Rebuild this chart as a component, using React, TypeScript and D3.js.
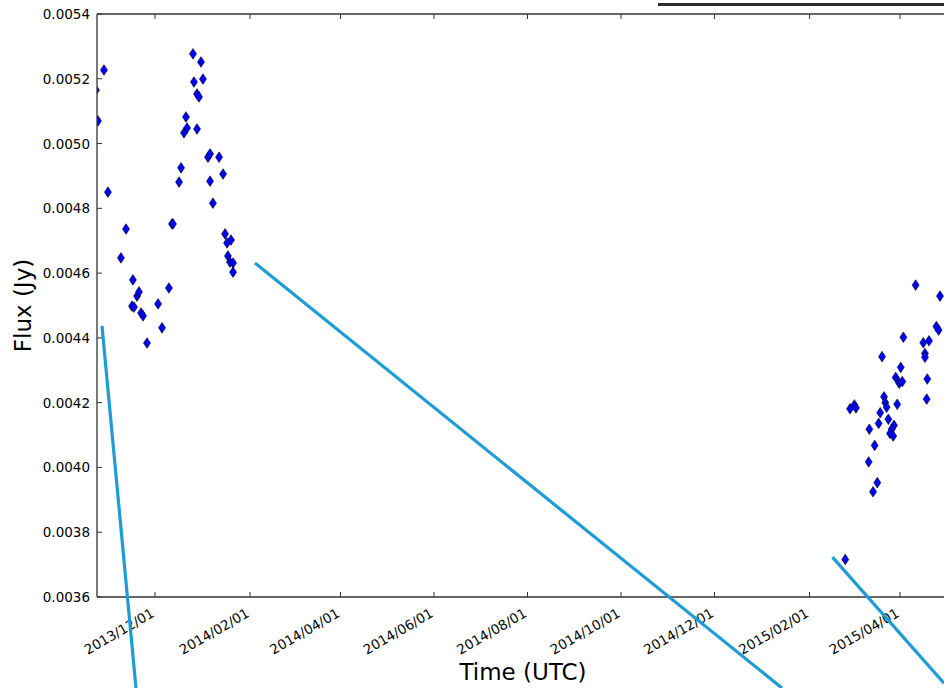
import React from "react";
import * as d3 from "d3";

// Observed flux points: [UTC time, flux in Jy]
const fluxTimes2013: string[] = [
  "2013-10-28T17", "2013-10-23T12", "2013-10-24T19", "2013-10-31T07",
  "2013-11-12T02", "2013-11-08T19", "2013-11-16T14", "2013-11-19T07",
  "2013-11-20T14", "2013-11-16T00", "2013-11-17T07", "2013-11-21T22",
  "2013-11-23T05", "2013-11-25T19", "2013-12-03T00", "2013-12-05T14",
  "2013-12-10T02", "2013-12-12T02", "2013-12-12T17", "2013-12-16T17",
  "2013-12-18T00", "2013-12-19T22", "2013-12-21T22", "2013-12-21T05",
  "2013-12-28T10", "2013-12-28T10", "2013-12-29T17", "2013-12-26T10",
  "2014-01-01T07", "2013-12-25T19", "2013-12-31T00", "2014-01-04T14",
  "2014-01-05T22", "2014-01-11T19", "2014-01-05T22", "2014-01-14T10",
  "2014-01-07T19", "2014-01-15T17", "2014-01-17T00", "2014-01-19T14",
  "2014-01-17T14", "2014-01-18T22", "2014-01-20T22", "2014-01-20T22",
];
const fluxValues2013: number[] = [
  0.005227, 0.005165, 0.00507, 0.00485,
  0.004736, 0.004647, 0.004579, 0.004529,
  0.004542, 0.004498, 0.004495, 0.004477,
  0.004468, 0.004384, 0.004505, 0.004431,
  0.004554, 0.004752, 0.004752, 0.004881,
  0.004925, 0.005033, 0.005048, 0.005082,
  0.005045, 0.005153, 0.005144, 0.00519,
  0.005199, 0.005277, 0.005252, 0.004958,
  0.004968, 0.004958, 0.004884, 0.004906,
  0.004816, 0.004721, 0.004693, 0.004702,
  0.004653, 0.004634, 0.004631, 0.004603,
];
const fluxTimes2015: string[] = [
  "2015-04-11T05", "2015-04-27T02", "2015-04-24T17", "2015-04-26T05",
  "2015-04-03T05", "2015-04-16T05", "2015-04-19T22", "2015-04-17T07",
  "2015-04-17T07", "2015-03-20T07", "2015-04-18T19", "2015-04-18T10",
  "2015-04-01T12", "2015-03-29T05", "2015-03-31T12", "2015-04-02T12",
  "2015-03-21T14", "2015-03-22T10", "2015-03-23T07", "2015-03-30T05",
  "2015-03-19T02", "2015-03-24T10", "2015-03-18T02", "2015-03-28T02",
  "2015-03-26T14", "2015-03-25T12", "2015-03-27T14", "2015-02-27T10",
  "2015-03-02T05", "2015-03-03T07", "2015-03-12T00", "2015-03-15T12",
  "2015-03-11T14", "2015-03-17T05", "2015-03-14T10", "2015-02-24T07",
];
const fluxValues2015: number[] = [
  0.004563, 0.004529, 0.004435, 0.004424,
  0.004402, 0.004385, 0.004391, 0.004352,
  0.00434, 0.004342, 0.004273, 0.004211,
  0.004309, 0.004278, 0.00426, 0.004265,
  0.004218, 0.0042, 0.004186, 0.004195,
  0.004169, 0.004149, 0.004136, 0.00413,
  0.004118, 0.004105, 0.004097, 0.004181,
  0.004193, 0.004184, 0.004118, 0.004068,
  0.004017, 0.003953, 0.003925, 0.003716,
];

// Blue trend segments: [start time, start flux, end time, end flux]
const segStartTimes: string[] = ["2013-10-27T10", "2014-02-04T05", "2015-02-15T22"];
const segStartValues: number[] = [0.004437, 0.004631, 0.003723];
const segEndTimes: string[] = ["2013-11-18T14", "2015-01-14T00", "2015-04-29T17"];
const segEndValues: number[] = [0.003319, 0.003319, 0.003334];

const xTickLabels: string[] = [
  "2013/12/01", "2014/02/01", "2014/04/01", "2014/06/01", "2014/08/01",
  "2014/10/01", "2014/12/01", "2015/02/01", "2015/04/01",
];
const yTickValues: number[] = [
  0.0036, 0.0038, 0.004, 0.0042, 0.0044, 0.0046, 0.0048, 0.005, 0.0052, 0.0054,
];
const xDomain: string[] = ["2013-10-24T04", "2015-05-03T15"];
const yDomain: number[] = [0.0036, 0.0054];

const W = 944;
const H = 688;
const M = { left: 97, top: 14, right: 950, bottom: 597 };
const FONT = "DejaVu Sans, sans-serif";

const parseT = (s: string) => new Date(s + ":00:00Z");
const parseTick = d3.utcParse("%Y/%m/%d");

export default function App() {
  const x = d3.scaleUtc().domain(xDomain.map(parseT)).range([M.left, M.right]);
  const y = d3.scaleLinear().domain(yDomain).range([M.bottom, M.top]);

  const points = [
    ...fluxTimes2013.map((t, i) => ({ t: parseT(t), v: fluxValues2013[i] })),
    ...fluxTimes2015.map((t, i) => ({ t: parseT(t), v: fluxValues2015[i] })),
  ];
  const segs = segStartTimes.map((t, i) => [
    [x(parseT(t)), y(segStartValues[i])],
    [x(parseT(segEndTimes[i])), y(segEndValues[i])],
  ] as [number, number][]);
  const line = d3.line();
  const diamond = "M0,-5.3L3.5,0L0,5.3L-3.5,0Z";
  const axisColor = "#333";
  const tickLen = 5;

  return (
    <svg
      width={W}
      height={H}
      style={{ position: "absolute", left: 0, top: 0, background: "#fff" }}
      fontFamily={FONT}
    >
      <defs>
        <clipPath id="plotclip">
          <rect x={M.left} y={M.top} width={M.right - M.left} height={M.bottom - M.top} />
        </clipPath>
      </defs>
      <rect x={0} y={0} width={W} height={H} fill="#fff" />
      {/* top decorative bar */}
      <line x1={658} x2={W} y1={4.5} y2={4.5} stroke="#2b2b2b" strokeWidth={3} />

      {/* markers */}
      <g clipPath="url(#plotclip)">
        {points.map((p, i) => (
          <path
            key={i}
            d={diamond}
            transform={`translate(${x(p.t)},${y(p.v)})`}
            fill="#0000ff"
            stroke="#000"
            strokeWidth={0.6}
          />
        ))}
      </g>

      {/* spines */}
      <g stroke={axisColor} strokeWidth={1.3} fill="none">
        <line x1={M.left} x2={M.left} y1={M.top} y2={M.bottom} />
        <line x1={M.left} x2={M.right} y1={M.top} y2={M.top} />
        <line x1={M.left} x2={M.right} y1={M.bottom} y2={M.bottom} />
        <line x1={M.right} x2={M.right} y1={M.top} y2={M.bottom} />
      </g>

      {/* y ticks */}
      {yTickValues.map((v) => (
        <g key={v}>
          <line x1={M.left} x2={M.left + tickLen} y1={y(v)} y2={y(v)} stroke={axisColor} />
          <line x1={M.right} x2={M.right - tickLen} y1={y(v)} y2={y(v)} stroke={axisColor} />
          <text
            x={M.left - 7}
            y={y(v)}
            textAnchor="end"
            dominantBaseline="central"
            fontSize={13.5}
            fill="#000"
          >
            {d3.format(".4f")(v)}
          </text>
        </g>
      ))}

      {/* x ticks */}
      {xTickLabels.map((lab) => {
        const xv = x(parseTick(lab) as Date);
        return (
          <g key={lab}>
            <line x1={xv} x2={xv} y1={M.bottom} y2={M.bottom - tickLen} stroke={axisColor} />
            <line x1={xv} x2={xv} y1={M.top} y2={M.top + tickLen} stroke={axisColor} />
            <text
              transform={`translate(${xv - 5},${M.bottom + 10}) rotate(-30)`}
              textAnchor="end"
              dominantBaseline="hanging"
              fontSize={13.5}
              fill="#000"
            >
              {lab}
            </text>
          </g>
        );
      })}

      {/* axis titles */}
      <text
        x={523}
        y={680}
        textAnchor="middle"
        fontSize={23}
        fill="#000"
      >
        Time (UTC)
      </text>
      <text
        transform={`translate(31,${(M.top + M.bottom) / 2}) rotate(-90)`}
        textAnchor="middle"
        fontSize={23}
        fill="#000"
      >
        Flux (Jy)
      </text>

      {/* blue trend segments, not clipped */}
      {segs.map((s, i) => (
        <path key={i} d={line(s) || ""} stroke="#1f9bd6" strokeWidth={3.2} fill="none" />
      ))}
    </svg>
  );
}
